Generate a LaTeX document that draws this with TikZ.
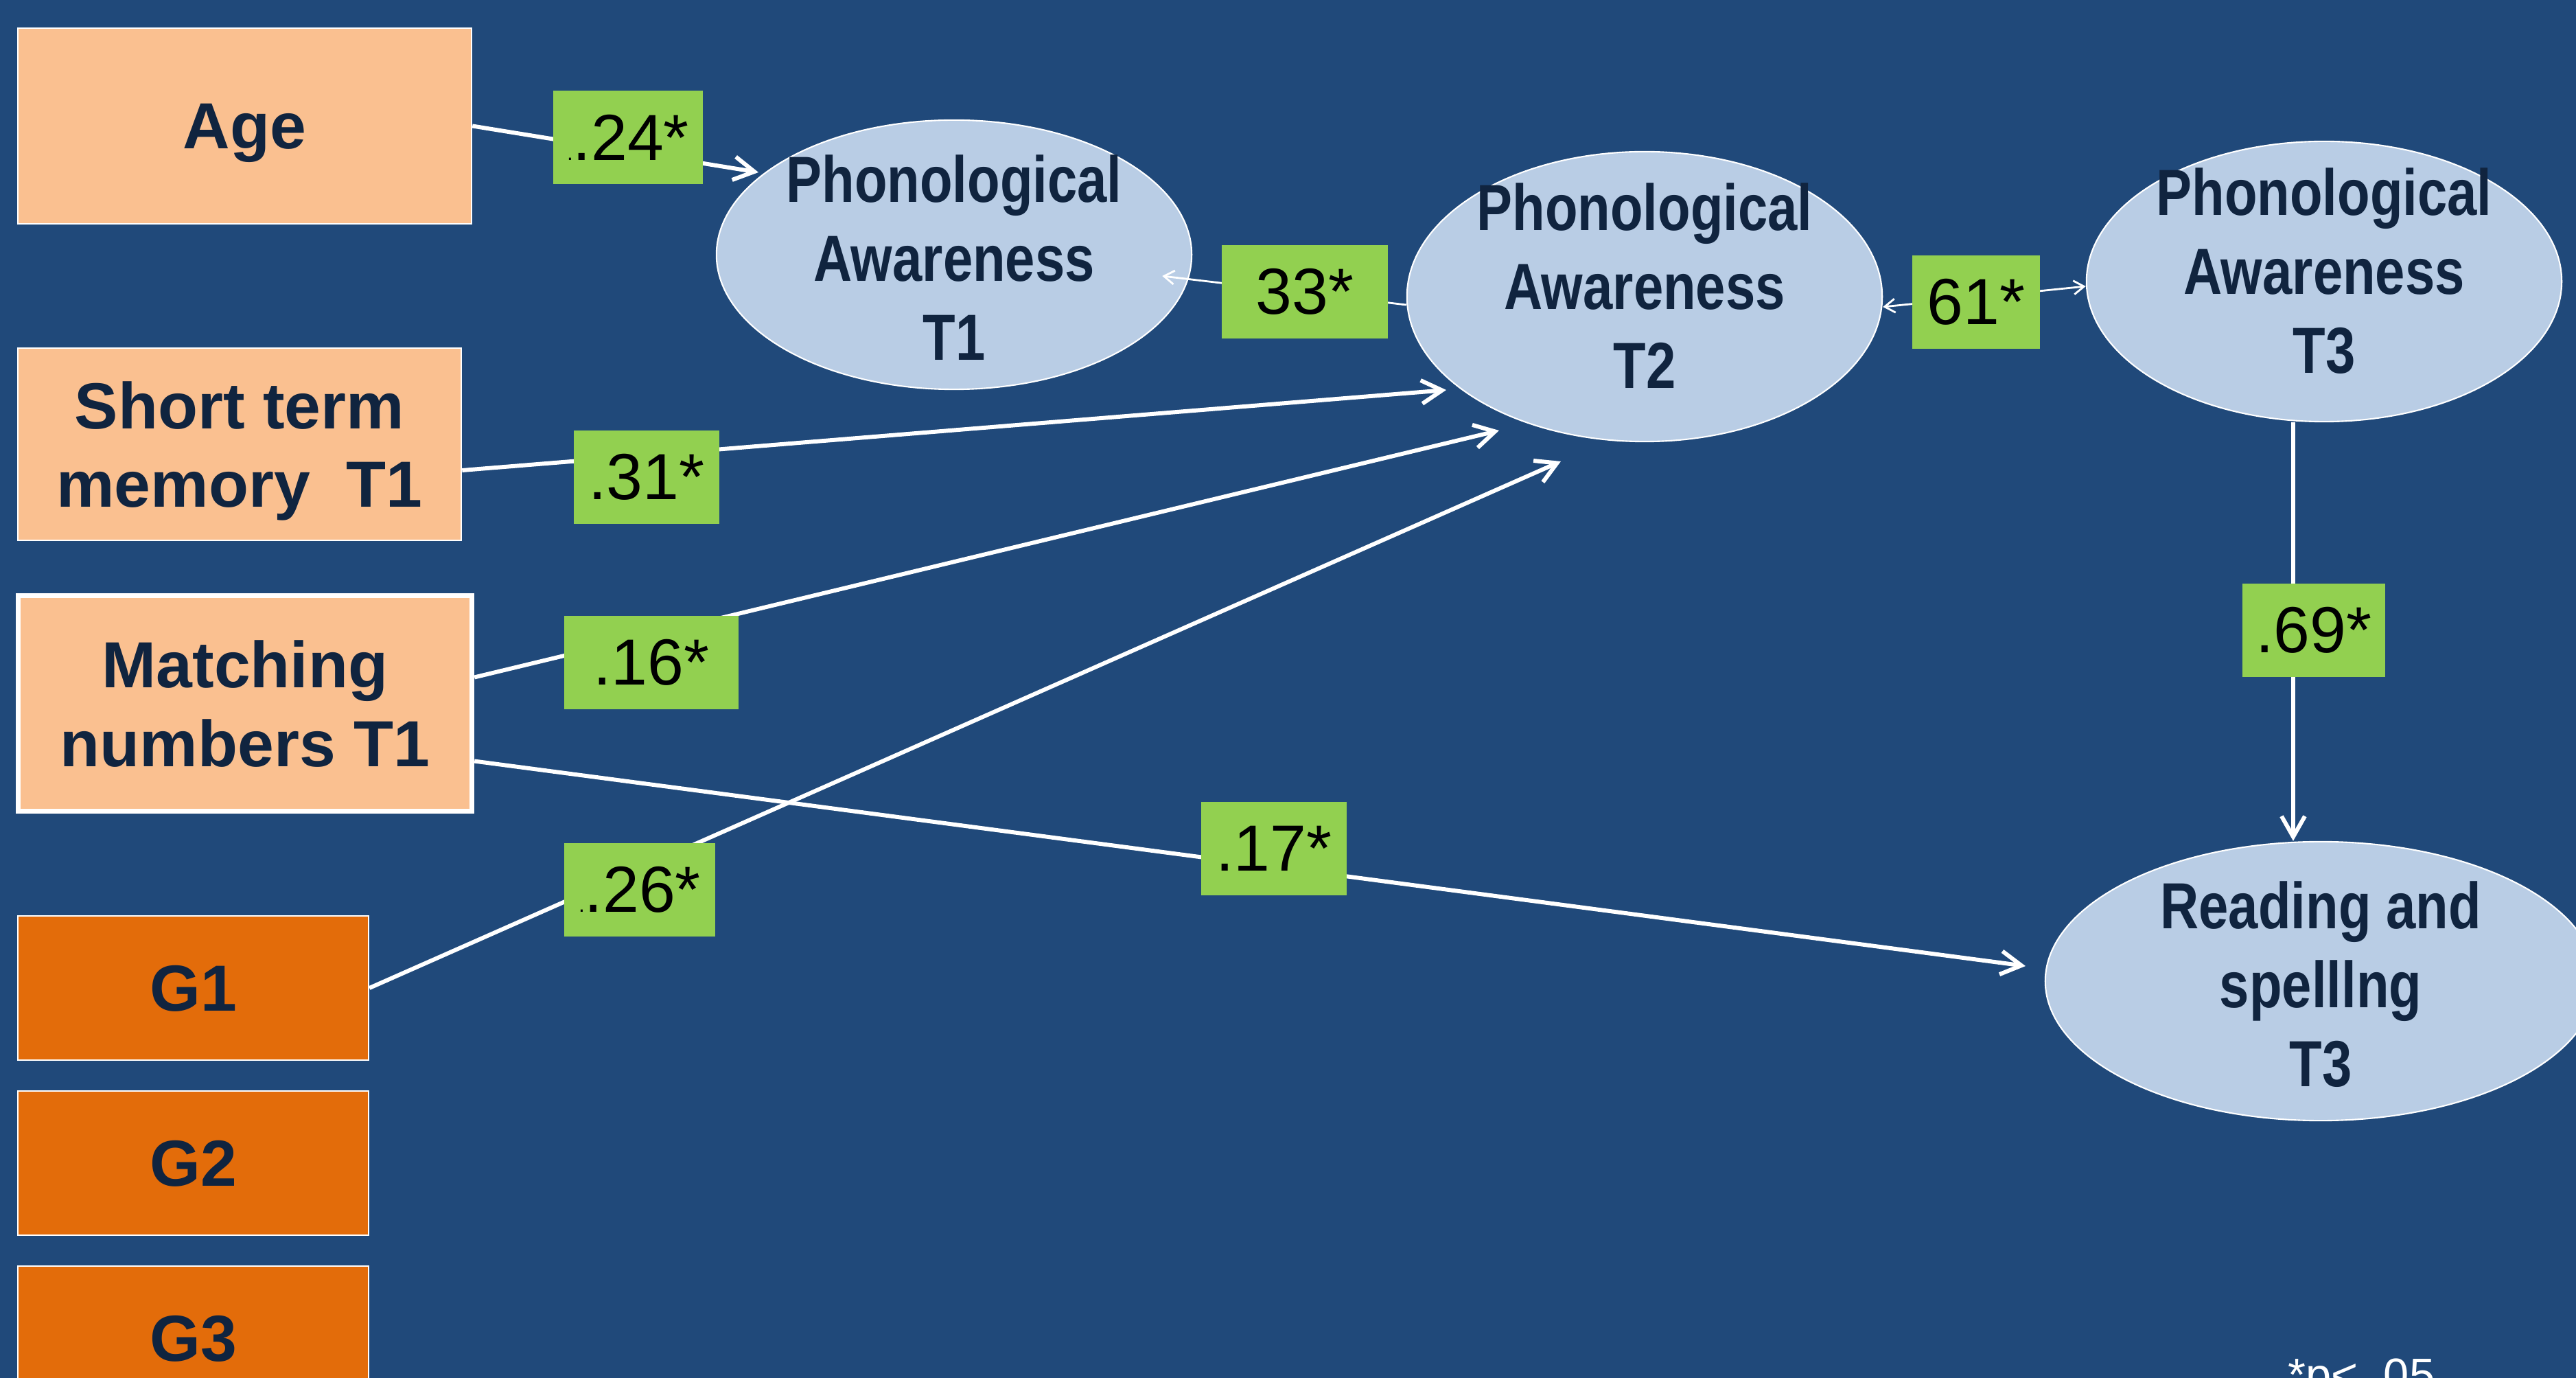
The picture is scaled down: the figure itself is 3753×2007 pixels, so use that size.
\documentclass[tikz,border=0pt]{standalone}
\usepackage{fontspec}
\setmainfont{Liberation Sans}
\newfontfamily\narrowsans[FakeStretch=0.82]{Liberation Sans}
\usetikzlibrary{arrows.meta, shapes.geometric, calc}

\definecolor{bgblue}{HTML}{20497A}
\definecolor{peach}{HTML}{FAC090}
\definecolor{gorange}{HTML}{E36C0A}
\definecolor{lgreen}{HTML}{92D050}
\definecolor{paleblue}{HTML}{B9CDE5}
\definecolor{navy}{HTML}{10243F}

\begin{document}
\begin{tikzpicture}[x=0.01cm, y=-0.01cm,
    box/.style={draw=white, line width=0.6pt, fill=peach, text=navy, align=center, inner sep=0pt, text depth=0pt,
      font=\bfseries\fontsize{27}{32.5}\selectfont},
    gbox/.style={box, fill=gorange, minimum width=5.11cm, minimum height=2.1cm},
    pa/.style={ellipse, draw=white, line width=0.6pt, fill=paleblue, inner sep=0pt},
    patext/.style={text=navy, align=center, font=\narrowsans\bfseries\fontsize{27}{32.7}\selectfont},
    coef/.style={fill=lgreen, text=black, inner sep=0pt, minimum height=1.36cm, font=\fontsize{27}{32}\selectfont},
    arr/.style={draw=white, line width=1.7pt, >={Straight Barb[length=3mm, width=3.4mm]}, ->},
    thinarr/.style={draw=white, line width=0.8pt, >={Straight Barb[length=1.5mm, width=2mm]}}]
  %tikz  path model, phonological awareness
  \useasboundingbox (0,0) rectangle (3753,2007);
  \clip (0,0) rectangle (3753,2007);
  \fill[bgblue] (0,0) rectangle (3753,2007);

  \node[box, minimum width=6.61cm, minimum height=2.85cm] (age) at (356.5,183.5) {Age};
  \node[box, minimum width=6.46cm, minimum height=2.80cm] (stm) at (349,647) {Short term\\memory~~T1};
  \node[box, line width=2pt, minimum width=6.61cm, minimum height=3.14cm] (mn) at (357,1024.5) {Matching\\numbers T1};
  \foreach \g/\y in {1/1439, 2/1694, 3/1949}{
    \node[gbox] (g\g) at (281.5,\y) {G\g};
  }

  \node[pa, minimum width=6.92cm, minimum height=3.92cm,
    label={[patext, yshift=-0.04cm]center:{Phonological\\Awareness\\T1}}] (t1) at (1390,371) {};
  \node[pa, minimum width=6.92cm, minimum height=4.22cm,
    label={[patext, yshift=0.16cm]center:{Phonological\\Awareness\\T2}}] (t2) at (2396,432) {};
  \node[pa, minimum width=6.92cm, minimum height=4.08cm,
    label={[patext, yshift=0.15cm]center:{Phonological\\Awareness\\T3}}] (t3) at (3386,410) {};
  \node[pa, minimum width=8.02cm, minimum height=4.06cm,
    label={[patext, yshift=-0.05cm]center:{Reading and\\spelllng\\T3}}] (rd) at (3381,1429) {};

  \coordinate (t1in) at (1105,251);
  \coordinate (t2a) at (2107,568);
  \coordinate (t2b) at (2184,627);
  \coordinate (t2c) at (2274,672);
  \coordinate (rdin) at (2951,1407);

  \draw[arr] (age.east) -- (t1in);
  \draw[arr] ([yshift=-0.38cm]stm.east) -- (t2a);
  \draw[arr] ([yshift=0.38cm]mn.east) -- (t2b);
  \draw[arr] (g1.east) -- (t2c);
  \draw[arr] ([yshift=-0.84cm]mn.east) -- (rdin);
  \draw[arr] ([xshift=-4.5mm]t3.south) -- ([xshift=-4.5mm]t3.south |- rd.north);
  \draw[thinarr, ->] ([yshift=-0.12cm]t2.west) -- ($(t1.east)+(-44,31)$);
  \draw[thinarr, <->] ([yshift=-0.15cm]t2.east) -- ([yshift=-0.07cm]t3.west);

  \node[coef, minimum width=2.17cm] (c24) at (915,200) {{\fontsize{9}{9}\selectfont.}.24*};
  \node[coef, minimum width=2.41cm] (c33) at (1901,425) {33*};
  \node[coef, minimum width=1.86cm] (c61) at (2879,440) {61*};
  \node[coef, minimum width=2.12cm] (c31) at (942,695) {.31*};
  \node[coef, minimum width=2.54cm] (c16) at (949,965) {.16*};
  \node[coef, minimum width=2.20cm] (c26) at (932,1296) {{\fontsize{9}{9}\selectfont.}.26*};
  \node[coef, minimum width=2.11cm] (c17) at (1856,1236) {.17*};
  \node[coef, minimum width=2.08cm] (c69) at (3371,918) {.69*};

  \node[anchor=base west, inner sep=0pt, text=white, font=\fontsize{19}{19}\selectfont] (sig) at (3333,2025) {*p< .05};
\end{tikzpicture}
\end{document}
